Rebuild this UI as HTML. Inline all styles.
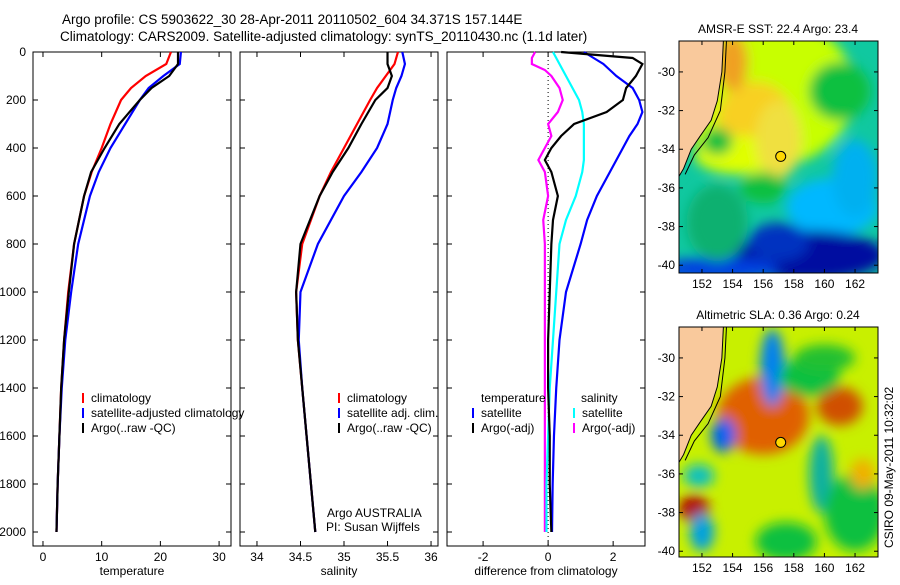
<!DOCTYPE html>
<html><head><meta charset="utf-8"><style>
body{margin:0;background:#fff;}
svg text{font-family:"Liberation Sans",sans-serif;font-size:12px;fill:#000;}
</style></head><body>
<svg id="c" width="900" height="580" xmlns="http://www.w3.org/2000/svg">
<defs>
<filter id="bl" x="-50%" y="-50%" width="200%" height="200%"><feGaussianBlur stdDeviation="6"/></filter>
<clipPath id="cm1"><rect x="679" y="41" width="199" height="232"/></clipPath>
<clipPath id="cm2"><rect x="679" y="327" width="199" height="230"/></clipPath>
</defs>
<text x="62" y="24" style="font-size:13.5px">Argo profile: CS 5903622_30 28-Apr-2011 20110502_604 34.371S 157.144E</text>
<text x="60" y="41" style="font-size:13.5px">Climatology: CARS2009. Satellite-adjusted climatology: synTS_20110430.nc (1.1d later)</text>
<g id="g"></g>
</svg>
<script>
// data
const depths=[0,50,100,150,200,300,400,500,600,800,1000,1200,1400,1600,1800,2000];
const tempClim=[21.8,21,17.5,15,13.3,11.5,10,8.3,7,5.3,4.3,3.6,3.1,2.8,2.5,2.3];
const tempSat=[23.5,23.3,20.5,18,16.5,14,11.5,9.5,8,6,4.8,3.8,3.2,2.8,2.5,2.3];
const tempArgo=[23,23,21.5,18.5,16.5,13,10.5,8.2,7.0,5.3,4.4,3.6,3.1,2.8,2.5,2.3];
const salClim=[35.62,35.58,35.48,35.38,35.3,35.15,35.0,34.85,34.72,34.52,34.45,34.47,34.52,34.57,34.62,34.67];
const salSat=[35.67,35.7,35.66,35.6,35.56,35.5,35.38,35.2,35.0,34.7,34.5,34.48,34.52,34.57,34.62,34.67];
const salArgo=[35.5,35.5,35.55,35.5,35.36,35.2,35.05,34.87,34.72,34.5,34.45,34.47,34.52,34.57,34.62,34.67];
const dDepths=[0,25,50,75,100,150,200,250,300,350,400,450,500,600,700,800,1000,1200,1400,1600,1800,2000];
const dTempArgo=[0.4,2.6,2.9,2.8,2.7,2.4,2.3,1.8,0.8,0.4,0.1,-0.1,0.1,0.3,0.15,0.1,0.05,0,0,0.05,0.05,0.1];
const dTempSat=[1.1,1.4,1.7,1.9,2.1,2.6,2.8,2.9,2.75,2.5,2.3,2.1,1.9,1.5,1.2,1.0,0.55,0.35,0.25,0.18,0.14,0.12];
const dSalSat=[0.15,0.25,0.35,0.45,0.55,0.75,0.95,1.05,1.1,1.1,1.1,1.1,1.05,0.85,0.55,0.35,0.25,0.15,0.05,0.0,-0.05,-0.05];
const dSalArgo=[-0.4,-0.5,-0.5,-0.1,0.1,0.35,0.45,0.3,0.0,0.1,-0.1,-0.3,-0.1,0.0,-0.15,-0.1,-0.1,-0.1,-0.1,-0.1,-0.1,-0.1];
const depthTicks=[0,200,400,600,800,1000,1200,1400,1600,1800,2000];
const tTicks=[0,10,20,30], sTicks=[34,34.5,35,35.5,36], dTicks=[-2,0,2];
const lonTicks=[152,154,156,158,160,162], latTicks=[-30,-32,-34,-36,-38,-40];
const argoLon=157.144, argoLat=-34.371;

const NS='http://www.w3.org/2000/svg', G=document.getElementById('g');
function el(t,a,p){const e=document.createElementNS(NS,t);for(const k in a)e.setAttribute(k,a[k]);(p||G).appendChild(e);return e;}
const TOP=52,BOT=546;
const yD=d=>52+d*0.24;
function panel(x0,xmin,xmax,ticks,label,name){
  const w=198,sx=v=>x0+(v-xmin)/(xmax-xmin)*w;
  const r=el('rect',{x:x0,y:TOP,width:w,height:BOT-TOP,fill:'#fff',stroke:'#000'});
  
  
  ticks.forEach(t=>{const x=sx(t);
    el('line',{x1:x,x2:x,y1:BOT,y2:BOT-5,stroke:'#000'});el('line',{x1:x,x2:x,y1:TOP,y2:TOP+5,stroke:'#000'});
    const tx=el('text',{x:x,y:561,'text-anchor':'middle'});tx.textContent=String(t);
    
    });
  depthTicks.forEach(d=>{const y=yD(d);el('line',{x1:x0,x2:x0+5,y1:y,y2:y,stroke:'#000'});el('line',{x1:x0+w,x2:x0+w-5,y1:y,y2:y,stroke:'#000'});});
  const lb=el('text',{x:x0+w/2,y:575,'text-anchor':'middle'});lb.textContent=label;
  
  
  return sx;
}
function line(sx,vals,ds,col,name){
  const p=el('polyline',{points:vals.map((v,i)=>sx(v)+','+yD(ds[i])).join(' '),fill:'none',stroke:col,'stroke-width':2.2});
  
  
}
depthTicks.forEach(d=>{const t=el('text',{x:26,y:yD(d)+4,'text-anchor':'end'});t.textContent=String(d);
  
  });
const s1=panel(33,-1.7,32.03,tTicks,'temperature','temperature-panel');
const s2=panel(240,33.805,36.08,sTicks,'salinity','salinity-panel');
const s3=panel(447,-3.11,2.98,dTicks,'difference from climatology','difference-panel');
line(s1,tempClim,depths,'#f00','temperature-climatology-line');
line(s1,tempSat,depths,'#00f','temperature-satellite-line');
line(s1,tempArgo,depths,'#000','temperature-argo-line');
line(s2,salClim,depths,'#f00','salinity-climatology-line');
line(s2,salSat,depths,'#00f','salinity-satellite-line');
line(s2,salArgo,depths,'#000','salinity-argo-line');
el('line',{x1:s3(0),x2:s3(0),y1:TOP,y2:BOT,stroke:'#000','stroke-dasharray':'1,3'});
line(s3,dSalArgo,dDepths,'#f0f','salinity-argo-diff-line');
line(s3,dSalSat,dDepths,'#0ff','salinity-satellite-diff-line');
line(s3,dTempSat,dDepths,'#00f','temperature-satellite-diff-line');
line(s3,dTempArgo,dDepths,'#000','temperature-argo-diff-line');
function leg(x,y,items,name){items.forEach((it,i)=>{
  el('line',{x1:x,x2:x,y1:y+i*15-9,y2:y+i*15+1,stroke:it[1],'stroke-width':2});
  const t=el('text',{x:x+8,y:y+i*15});t.textContent=it[0];
  
  });}
leg(83,402,[['climatology','#f00'],['satellite-adjusted climatology','#00f'],['Argo(..raw -QC)','#000']],'temperature-legend');
leg(339,402,[['climatology','#f00'],['satellite adj. clim.','#00f'],['Argo(..raw -QC)','#000']],'salinity-legend');
{const t=el('text',{x:481,y:402});t.textContent='temperature';
 const t2=el('text',{x:581,y:402});t2.textContent='salinity';}
leg(473,417,[['satellite','#00f'],['Argo(-adj)','#000']],'diff-temp-legend');
leg(574,417,[['satellite','#0ff'],['Argo(-adj)','#f0f']],'diff-sal-legend');
{const a=el('text',{x:327,y:517});a.textContent='Argo AUSTRALIA';
 const b=el('text',{x:326,y:531});b.textContent='PI: Susan Wijffels';}

function map(y0,h,title,bg,blobs,name,clip){
  const lx=v=>679+(v-150.5)/13*199, ly=v=>y0+(-28.4-v)*19.33;
  const g=el('g',{'clip-path':'url(#'+clip+')'});
  
  
  el('rect',{x:679,y:y0,width:199,height:h,fill:bg},g);
  const fg=el('g',{filter:'url(#bl)'},g);
  blobs.forEach(b=>el('ellipse',{cx:lx(b[0]),cy:ly(b[1]),rx:b[2]*15.3,ry:b[3]*19.3,fill:b[4]},fg));
  const coast=[[150.5,-28.4],[153.4,-28.4],[153.3,-30],[153.0,-31.5],[152.6,-32.5],[151.9,-33.3],[151.3,-34],[150.8,-35],[150.5,-35.4]];
  el('polygon',{points:coast.map(c=>lx(c[0])+','+ly(c[1])).join(' '),fill:'#f9c99c',stroke:'#000','stroke-width':1},g);
  el('polyline',{points:[[153.6,-28.4],[153.5,-30],[153.2,-32],[152.4,-33.4],[151.5,-34.3],[150.9,-35.3]].map(c=>lx(c[0])+','+ly(c[1])).join(' '),fill:'none',stroke:'#000'},g);
  const d=el('circle',{cx:lx(argoLon),cy:ly(argoLat),r:5,fill:'#ffd800',stroke:'#000'},g);
  
  
  el('rect',{x:679,y:y0,width:199,height:h,fill:'none',stroke:'#000'});
  lonTicks.forEach(v=>{const x=lx(v);el('line',{x1:x,x2:x,y1:y0+h,y2:y0+h-4,stroke:'#000'});el('line',{x1:x,x2:x,y1:y0,y2:y0+4,stroke:'#000'});
    const t=el('text',{x:x,y:y0+h+15,'text-anchor':'middle'});t.textContent=String(v);
    
    });
  latTicks.forEach(v=>{const y=ly(v);el('line',{x1:679,x2:683,y1:y,y2:y,stroke:'#000'});el('line',{x1:878,x2:874,y1:y,y2:y,stroke:'#000'});
    const t=el('text',{x:675,y:y+4,'text-anchor':'end'});t.textContent=String(v);
    
    });
  const tt=el('text',{x:778,y:y0-8,'text-anchor':'middle'});tt.textContent=title;
  
  
}
map(41,232,'AMSR-E SST: 22.4  Argo: 23.4','#10c8a0',[
 [156,-31,6,4,'#c8ff00'],[155.5,-32.5,2.5,2,'#f8d020'],[154,-29.5,1,1.5,'#f0a020'],[154.5,-34.3,3,1,'#e0ff00'],[161,-31,2,1.5,'#10c040'],[157,-33.5,1.5,2,'#f0e040'],
 [153,-33.6,1,0.7,'#10c040'],[156,-36,1.5,0.8,'#10c040'],
 [160.5,-37,3,1.5,'#00b8ff'],[162,-35.5,1.5,2,'#00b0f0'],[159,-39.5,5,1.3,'#0010a0'],[153,-40.2,4,0.6,'#0040e0'],[157,-38.8,2,1,'#0030c0'],[153,-37.8,2,2,'#10b070']
],'sst-map','cm1');
map(327,230,'Altimetric SLA: 0.36  Argo: 0.24','#c8f000',[
 [155.5,-33.5,1.8,1.2,'#b00000'],[156,-33,3,2,'#e06000'],[161,-32.5,1.5,1,'#d05000'],[151.5,-37.8,1,0.7,'#b00000'],
 [156.6,-30.5,0.8,2,'#0080f0'],[153.4,-34,0.8,0.9,'#0060f0'],[152,-39,0.8,1,'#00a0e0'],[151.8,-36.1,1,0.6,'#10c0c0'],
 [159.8,-36,0.8,2,'#10b0a0'],[157.5,-39.5,2,1,'#10c040'],[162,-38,2,2,'#10c040'],[159,-31,2,1,'#10c040'],[160,-30,2,0.7,'#20c030'],[162.5,-36,0.8,0.8,'#f0b000']
],'sla-map','cm2');
{const t=el('text',{x:0,y:0,transform:'translate(893,548) rotate(-90)'});t.textContent='CSIRO 09-May-2011 10:32:02';
 }
</script>
</body></html>
